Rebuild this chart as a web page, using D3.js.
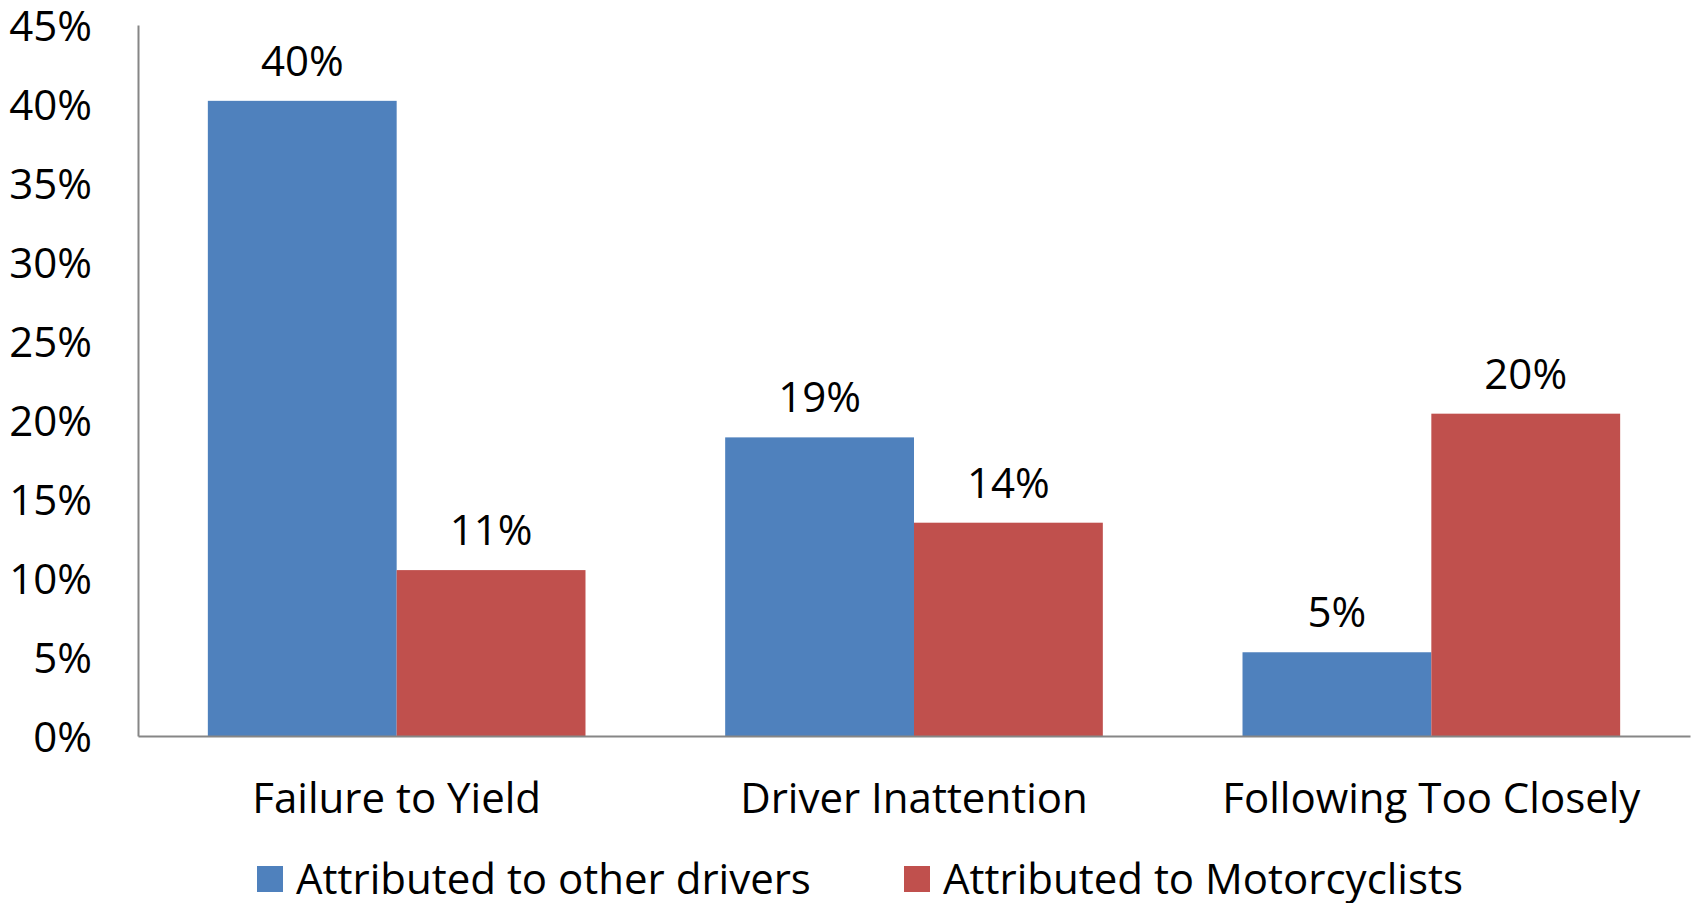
<!DOCTYPE html>
<html>
<head>
<meta charset="utf-8">
<script src="https://cdn.jsdelivr.net/npm/d3@7"></script>
<style>
  body { margin: 0; background: #fff; }
  text { font-family: "Open Sans", sans-serif; fill: #000; }
</style>
</head>
<body>
<div id="chart"></div>
<script>
const categories = ["Failure to Yield", "Driver Inattention", "Following Too Closely"];
const seriesNames = ["Attributed to other drivers", "Attributed to Motorcyclists"];
const otherDrivers = [40.2, 18.9, 5.3];
const motorcyclists = [10.5, 13.5, 20.4];
const valueLabels = [["40%", "19%", "5%"], ["11%", "14%", "20%"]];
const yTicks = [0, 5, 10, 15, 20, 25, 30, 35, 40, 45];
const colors = ["#4F81BD", "#C0504D"];

const w = 1696;
const h = 903;
const margin = { top: 25, right: 6, bottom: 167, left: 138 };
const fontSize = 42;

const svg = d3.select("#chart")
  .append("svg")
  .attr("width", w)
  .attr("height", h);

const x = d3.scaleBand()
  .domain(categories)
  .range([margin.left, w - margin.right])
  .paddingInner(0.27)
  .paddingOuter(0.135);

const x1 = d3.scaleBand()
  .domain([0, 1])
  .range([0, x.bandwidth()]);

const y = d3.scaleLinear()
  .domain([0, 45])
  .range([h - margin.bottom, margin.top]);

// bars + value labels
const series = [otherDrivers, motorcyclists];
series.forEach((vals, s) => {
  svg.append("g")
    .selectAll("rect")
    .data(vals)
    .enter()
    .append("rect")
    .attr("x", (d, i) => x(categories[i]) + x1(s))
    .attr("y", (d) => y(d))
    .attr("width", x1.bandwidth())
    .attr("height", (d) => y(0) - y(d))
    .attr("fill", colors[s]);

  svg.append("g")
    .selectAll("text")
    .data(vals)
    .enter()
    .append("text")
    .attr("x", (d, i) => x(categories[i]) + x1(s) + x1.bandwidth() / 2)
    .attr("y", (d) => y(d) - 25)
    .attr("text-anchor", "middle")
    .attr("font-size", fontSize)
    .text((d, i) => valueLabels[s][i]);
});

// y axis
const yAxis = svg.append("g")
  .attr("transform", `translate(${margin.left},0)`)
  .call(d3.axisLeft(y).tickValues(yTicks).tickSize(0).tickPadding(46).tickFormat((d) => d + "%"));
yAxis.select(".domain").attr("stroke", "#868686").attr("stroke-width", 2);
yAxis.selectAll("text")
  .attr("font-size", fontSize)
  .attr("dy", "0.36em");

// x axis
const xAxis = svg.append("g")
  .attr("transform", `translate(0,${y(0)})`)
  .call(d3.axisBottom(x).tickSize(0).tickPadding(0));
xAxis.select(".domain").attr("stroke", "#868686").attr("stroke-width", 2);
xAxis.selectAll("text")
  .attr("font-size", fontSize)
  .attr("dy", null)
  .attr("y", 77);

// legend
const legendX = [257, 904];
const legend = svg.append("g")
  .selectAll("g")
  .data(seriesNames)
  .enter()
  .append("g")
  .attr("transform", (d, i) => `translate(${legendX[i]},866)`);
legend.append("rect")
  .attr("width", 26)
  .attr("height", 26)
  .attr("fill", (d, i) => colors[i]);
legend.append("text")
  .attr("x", 39)
  .attr("y", 28)
  .attr("font-size", fontSize)
  .text((d) => d);
</script>
</body>
</html>
